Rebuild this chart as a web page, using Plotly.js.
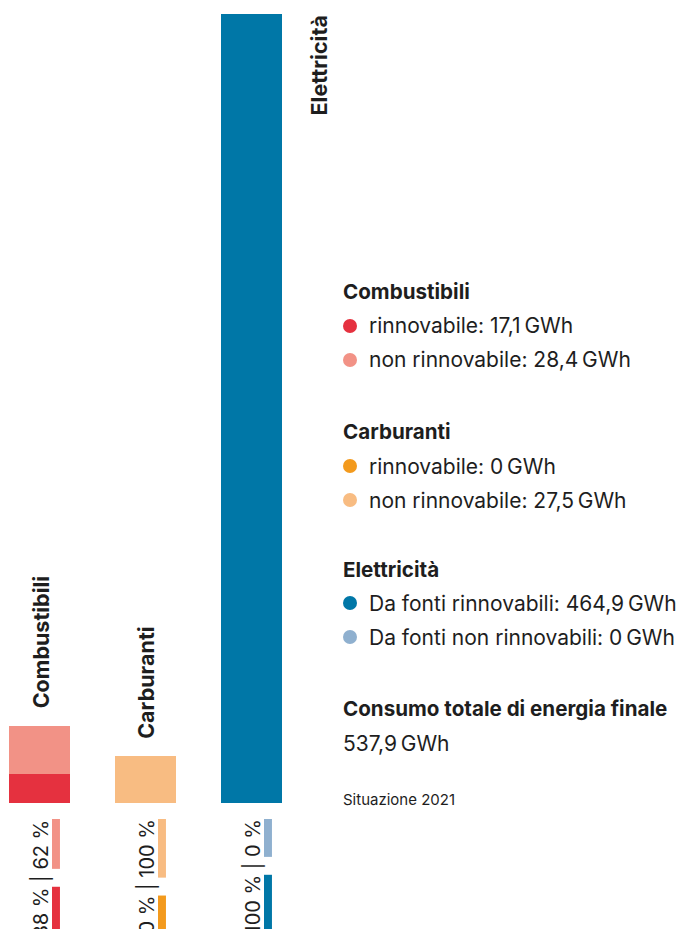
<!DOCTYPE html>
<html><head><meta charset="utf-8">
<script src="https://cdn.plot.ly/plotly-3.0.1.min.js"></script>
<style>html,body{margin:0;padding:0;background:#fff}</style>
</head><body><div id="chart" style="width:677px;height:929px"></div>
<script>
// ---- data ----
const categories = ['Combustibili', 'Carburanti', 'Elettricità'];
const renewable = [17.1, 0, 464.9];
const nonRenewable = [28.4, 27.5, 0];
const renewLabels = ['rinnovabile', 'rinnovabile', 'Da fonti rinnovabili'];
const nonRenewLabels = ['non rinnovabile', 'non rinnovabile', 'Da fonti non rinnovabili'];
const totalLabel = 'Consumo totale di energia finale';
const footnote = 'Situazione 2021';
const unit = 'GWh';

// ---- styles ----
const renewColors = ['#E5313F', '#F39A1D', '#0077A7'];
const nonRenewColors = ['#F29286', '#F8BC82', '#8FB0CF'];
const FONT = 'Inter, "Open Sans", sans-serif';
const TXT = '#1e1e1e';
const W = 677, H = 929;
const px = x => x / W, py = y => 1 - y / H;

function fmt(v) { return v === 0 ? '0' : v.toFixed(1).replace('.', ','); }
const NS = '\u2009';

const xs = categories.map((c, i) => i);
const traces = [
  { type: 'bar', x: xs, y: renewable, width: 0.575, marker: { color: renewColors }, hoverinfo: 'skip', showlegend: false },
  { type: 'bar', x: xs, y: nonRenewable, width: 0.575, marker: { color: nonRenewColors }, hoverinfo: 'skip', showlegend: false }
];

const annotations = [];
const shapes = [];

// measure text widths for indicator bars
const cv = document.createElement('canvas').getContext('2d');
const PFS = 20;
cv.font = PFS + 'px Inter';
const CFS = 21.5;

categories.forEach((c, i) => {
  const top = renewable[i] + nonRenewable[i];
  if (top < 300) {
    annotations.push({ x: i, y: top, xref: 'x', yref: 'y', text: '<b>' + c + '</b>', showarrow: false,
      textangle: -90, yanchor: 'bottom', xanchor: 'center', yshift: 15, xshift: 1,
      font: { family: FONT, size: CFS, color: TXT } });
  } else {
    annotations.push({ x: i, y: top, xref: 'x', yref: 'y', text: '<b>' + c + '</b>', showarrow: false,
      textangle: -90, yanchor: 'top', xanchor: 'left', xshift: 52,
      font: { family: FONT, size: CFS, color: TXT } });
  }
  const tot = top;
  const pr = Math.round(renewable[i] / tot * 100);
  const pn = 100 - pr;
  const s1 = pr + ' %', s2 = pn + ' %';
  const full = s1 + ' | ' + s2;
  annotations.push({ x: i, y: py(819), xref: 'x', yref: 'paper', text: full, showarrow: false,
    textangle: -90, yanchor: 'top', xanchor: 'center', xshift: 1, borderpad: 0,
    font: { family: FONT, size: PFS, color: TXT } });
  const wFull = cv.measureText(full).width, w1 = cv.measureText(s1).width, w2 = cv.measureText(s2).width;
  const y0 = 819;
  shapes.push({ type: 'rect', xref: 'x', yref: 'paper', x0: i + 0.118, x1: i + 0.193,
    y0: py(y0), y1: py(y0 + w2), fillcolor: nonRenewColors[i], line: { width: 0 } });
  shapes.push({ type: 'rect', xref: 'x', yref: 'paper', x0: i + 0.118, x1: i + 0.193,
    y0: py(y0 + wFull - w1), y1: py(y0 + wFull), fillcolor: renewColors[i], line: { width: 0 } });
});

// legend block
const LX = 341, TX = 367, LFS = 21, HFS = 20.6;
const headY = [292, 432, 569];
categories.forEach((c, i) => {
  const hy = headY[i];
  annotations.push({ x: px(LX), y: py(hy), xref: 'paper', yref: 'paper', text: '<b>' + c + '</b>', showarrow: false,
    xanchor: 'left', yanchor: 'middle', font: { family: FONT, size: HFS, color: TXT } });
  const rows = [[renewLabels[i], renewable[i], renewColors[i]], [nonRenewLabels[i], nonRenewable[i], nonRenewColors[i]]];
  rows.forEach((r, k) => {
    const ry = hy + 34 + k * 34;
    shapes.push({ type: 'circle', xref: 'paper', yref: 'paper', x0: px(343), x1: px(357), y0: py(ry - 7), y1: py(ry + 7),
      fillcolor: r[2], line: { width: 0 } });
    annotations.push({ x: px(TX), y: py(ry), xref: 'paper', yref: 'paper', text: r[0] + ': ' + fmt(r[1]) + NS + unit,
      showarrow: false, xanchor: 'left', yanchor: 'middle', font: { family: FONT, size: LFS, color: TXT } });
  });
});
const total = renewable.concat(nonRenewable).reduce((a, b) => a + b, 0);
annotations.push({ x: px(LX), y: py(708), xref: 'paper', yref: 'paper', text: '<b>' + totalLabel + '</b>', showarrow: false,
  xanchor: 'left', yanchor: 'middle', font: { family: FONT, size: HFS, color: TXT } });
annotations.push({ x: px(LX), y: py(743), xref: 'paper', yref: 'paper', text: fmt(total) + NS + unit, showarrow: false,
  xanchor: 'left', yanchor: 'middle', font: { family: FONT, size: LFS, color: TXT } });
annotations.push({ x: px(LX), y: py(799), xref: 'paper', yref: 'paper', text: footnote, showarrow: false,
  xanchor: 'left', yanchor: 'middle', font: { family: FONT, size: 15, color: TXT } });

const layout = {
  width: W, height: H,
  margin: { l: 0, r: 0, t: 0, b: 0, pad: 0 },
  paper_bgcolor: '#fff', plot_bgcolor: '#fff',
  barmode: 'stack', showlegend: false,
  xaxis: { range: [-39.5 / 106, (W - 39.5) / 106], visible: false, fixedrange: true },
  yaxis: { range: [-(H - 803) / ((803 - 14) / 464.9), 803 / ((803 - 14) / 464.9)], visible: false, fixedrange: true },
  annotations: annotations, shapes: shapes
};
Plotly.newPlot('chart', traces, layout, { displayModeBar: false, staticPlot: true });
</script></body></html>
